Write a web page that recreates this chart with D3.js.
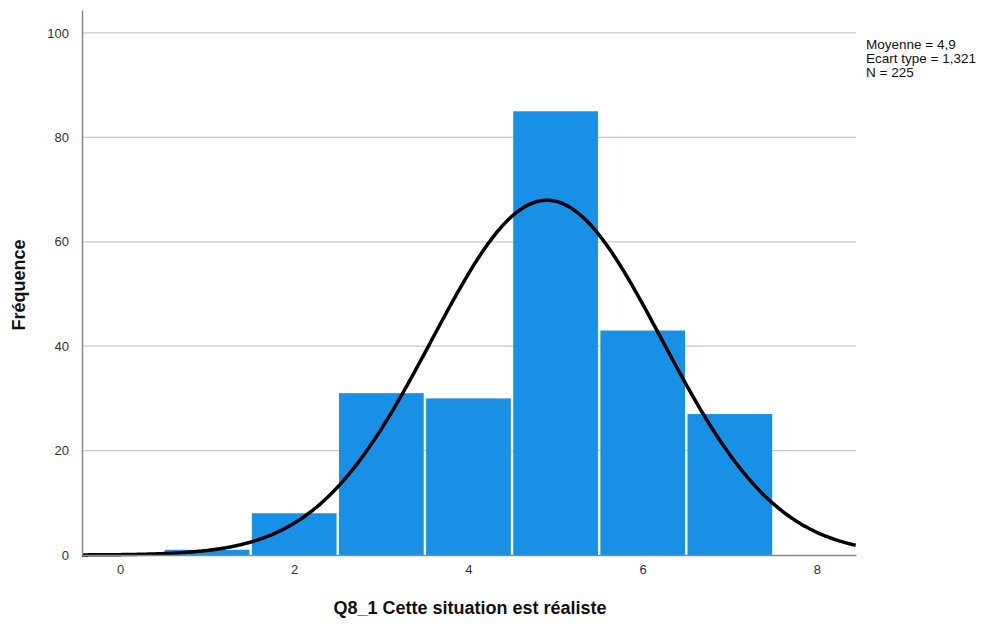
<!DOCTYPE html>
<html>
<head>
<meta charset="utf-8">
<script src="https://cdn.jsdelivr.net/npm/d3@7"></script>
<style>
  body { margin: 0; background: #fff; }
  text { font-family: "Liberation Sans", Arial, sans-serif; }
</style>
</head>
<body>
<div id="chart"></div>
<script>
// histogram data
const categories = [1, 2, 3, 4, 5, 6, 7];
const frequencies = [1, 8, 31, 30, 85, 43, 27];
const yTicks = [0, 20, 40, 60, 80, 100];
const xTicks = [0, 2, 4, 6, 8];
const statLabels = ["Moyenne = 4,9", "Ecart type = 1,321", "N = 225"];
const mean = 4.9, sd = 1.321, n = 225;

const width = 988, height = 626;
const margin = { top: 10, left: 82, right: 132, bottom: 71 };

const svg = d3.select("#chart").append("svg")
    .attr("width", width)
    .attr("height", height);

const x = d3.scaleLinear()
    .domain([-0.436, 8.448])
    .range([margin.left, width - margin.right]);

const y = d3.scaleLinear()
    .domain([0, 104.4])
    .range([height - margin.bottom, margin.top]);

// gridlines
svg.append("g")
    .selectAll("line")
    .data(yTicks.filter(d => d > 0))
    .enter().append("line")
    .attr("x1", margin.left)
    .attr("x2", width - margin.right)
    .attr("y1", d => y(d))
    .attr("y2", d => y(d))
    .attr("stroke", "#c8c8c8")
    .attr("stroke-width", 1.2);

// bars
svg.append("g")
    .selectAll("rect")
    .data(categories)
    .enter().append("rect")
    .attr("x", d => x(d - 0.5) + 1.2)
    .attr("width", d => x(d + 0.5) - x(d - 0.5) - 2.4)
    .attr("y", (d, i) => y(frequencies[i]))
    .attr("height", (d, i) => y(0) - y(frequencies[i]))
    .attr("fill", "#1790e6");

// normal curve fitted from stats shown
const curvePts = d3.range(x.domain()[0], x.domain()[1] + 0.001, 0.02).map(v => {
    const z = (v - mean) / sd;
    return [v, n * Math.exp(-0.5 * z * z) / (sd * Math.sqrt(2 * Math.PI))];
});

svg.append("path")
    .datum(curvePts)
    .attr("fill", "none")
    .attr("stroke", "#000")
    .attr("stroke-width", 3.5)
    .attr("d", d3.line().x(d => x(d[0])).y(d => y(d[1])));

// axes
const yAxis = svg.append("g")
    .attr("transform", "translate(" + margin.left + ",0)")
    .call(d3.axisLeft(y).tickValues(yTicks).tickSize(0).tickPadding(13));
yAxis.select(".domain").attr("stroke", "#888").attr("stroke-width", 1.5);
yAxis.selectAll("text").attr("font-size", 13).attr("fill", "#333")
    .attr("font-family", "Liberation Sans, Arial, sans-serif");

const xAxis = svg.append("g")
    .attr("transform", "translate(0," + y(0) + ")")
    .call(d3.axisBottom(x).tickValues(xTicks).tickSize(0).tickPadding(10));
xAxis.select(".domain").attr("stroke", "#888").attr("stroke-width", 1.5);
xAxis.selectAll("text").attr("font-size", 13).attr("fill", "#333")
    .attr("font-family", "Liberation Sans, Arial, sans-serif");

// axis titles
svg.append("text")
    .attr("x", 470)
    .attr("y", 614)
    .attr("text-anchor", "middle")
    .attr("font-size", 18)
    .attr("font-weight", "bold")
    .attr("fill", "#111")
    .text("Q8_1 Cette situation est réaliste");

svg.append("text")
    .attr("transform", "translate(25,285) rotate(-90)")
    .attr("text-anchor", "middle")
    .attr("font-size", 18)
    .attr("font-weight", "bold")
    .attr("fill", "#111")
    .text("Fréquence");

// stats box
svg.append("g")
    .selectAll("text")
    .data(statLabels)
    .enter().append("text")
    .attr("x", 866)
    .attr("y", (d, i) => 48.5 + i * 14.3)
    .attr("font-size", 13.5)
    .attr("fill", "#111")
    .text(d => d);
</script>
</body>
</html>
